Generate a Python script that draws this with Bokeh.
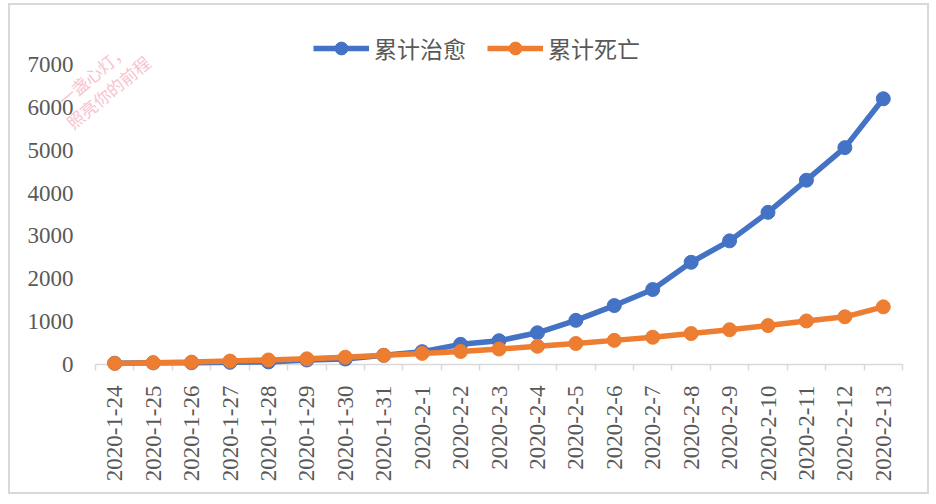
import math
from bokeh.plotting import figure
from bokeh.models import Range1d, FixedTicker, Legend, LegendItem, Label
from bokeh.embed import file_html
from bokeh.resources import INLINE

dates = ["2020-1-24", "2020-1-25", "2020-1-26", "2020-1-27", "2020-1-28",
         "2020-1-29", "2020-1-30", "2020-1-31", "2020-2-1", "2020-2-2",
         "2020-2-3", "2020-2-4", "2020-2-5", "2020-2-6", "2020-2-7",
         "2020-2-8", "2020-2-9", "2020-2-10", "2020-2-11", "2020-2-12",
         "2020-2-13"]
cured = [30, 38, 42, 51, 60, 105, 128, 215, 300, 470, 555, 740, 1030,
         1375, 1750, 2385, 2885, 3550, 4300, 5060, 6200]
deaths = [26, 41, 56, 80, 106, 132, 170, 213, 259, 304, 361, 425, 490,
          563, 636, 722, 811, 908, 1016, 1113, 1345]
y_ticks = [0, 1000, 2000, 3000, 4000, 5000, 6000, 7000]
series_names = ["累计治愈", "累计死亡"]
watermark = ["一盏心灯，", "照亮你的前程"]

BLUE = "#4472C4"
ORANGE = "#ED7D31"
GRAY = "#595959"
LIGHT = "#D9D9D9"

# layout geometry (pixels); the frame fills the whole canvas so that the
# axis labels, legend and watermark all sit inside it
CW, CH = 921, 491          # canvas size
AXIS_L, AXIS_W = 85, 807   # category axis start / width inside canvas
AXIS_T, AXIS_H = 59, 300   # top of 7000 / height of 0..7000 inside canvas

n = len(dates)
xs = [i + 0.5 for i in range(n)]
ux = n / AXIS_W
uy = y_ticks[-1] / AXIS_H
x_start = -AXIS_L * ux
x_end = n + (CW - AXIS_L - AXIS_W) * ux
y_end = y_ticks[-1] + AXIS_T * uy
y_start = -(CH - AXIS_T - AXIS_H) * uy

p = figure(width=CW, height=CH, output_backend="svg", toolbar_location=None,
           x_range=Range1d(x_start, x_end), y_range=Range1d(y_start, y_end),
           min_border=0)
p.styles = {"border": "2px solid #D9D9D9", "margin-left": "8px", "margin-top": "3px"}
p.outline_line_color = None
p.xgrid.visible = False
p.ygrid.visible = False

# x axis, pinned at value 0
p.xaxis.ticker = FixedTicker(ticks=xs, minor_ticks=list(range(n + 1)))
p.xaxis.fixed_location = 0
p.xaxis.bounds = (0, n)
p.xaxis.level = "underlay"
p.xaxis.major_label_overrides = {x: d for x, d in zip(xs, dates)}
p.xaxis.major_tick_line_color = None
p.xaxis.major_tick_out = 0
p.xaxis.major_tick_in = 0
p.xaxis.minor_tick_line_color = LIGHT
p.xaxis.minor_tick_line_width = 1.5
p.xaxis.minor_tick_out = 6
p.xaxis.minor_tick_in = 0
p.xaxis.axis_line_color = LIGHT
p.xaxis.axis_line_width = 1.5
p.xaxis.major_label_orientation = math.pi / 2
p.xaxis.major_label_standoff = 15
p.xaxis.major_label_text_font = "Liberation Serif"
p.xaxis.major_label_text_font_size = "23px"
p.xaxis.major_label_text_color = GRAY

# y axis, pinned at the start of the category axis
p.yaxis.ticker = FixedTicker(ticks=y_ticks)
p.yaxis.fixed_location = 0
p.yaxis.bounds = (y_ticks[0], y_ticks[-1])
p.yaxis.level = "underlay"
p.yaxis.axis_line_color = None
p.yaxis.major_tick_line_color = None
p.yaxis.minor_tick_line_color = None
p.yaxis.major_tick_out = 0
p.yaxis.major_tick_in = 0
p.yaxis.major_label_standoff = 22
p.yaxis.major_label_text_font = "Liberation Serif"
p.yaxis.major_label_text_font_size = "23px"
p.yaxis.major_label_text_color = GRAY

l1 = p.line(xs, cured, line_color=BLUE, line_width=5.5)
m1 = p.scatter(xs, cured, size=14, fill_color=BLUE, line_color=BLUE)
l2 = p.line(xs, deaths, line_color=ORANGE, line_width=5.5)
m2 = p.scatter(xs, deaths, size=14, fill_color=ORANGE, line_color=ORANGE)

legend = Legend(items=[LegendItem(label=series_names[0], renderers=[l1, m1]),
                       LegendItem(label=series_names[1], renderers=[l2, m2])],
                orientation="horizontal", location=(303, 431),
                glyph_width=56, glyph_height=32, label_standoff=5, spacing=21,
                padding=0, margin=0, border_line_color=None,
                background_fill_alpha=0,
                label_text_font="Noto Sans CJK SC", label_text_font_size="23px",
                label_text_color=GRAY)
p.add_layout(legend, "center")

for txt, (sx, sy) in zip(watermark, [(82, 422), (97.5, 404.5)]):
    p.add_layout(Label(x=sx, y=sy, x_units="screen", y_units="screen", text=txt,
                       angle=39.6, angle_units="deg", text_align="center",
                       text_baseline="middle", text_font="Noto Sans CJK SC",
                       text_font_size="17px", text_color="#F7C3CE"))

open("out.html", "w").write(file_html(p, INLINE))
